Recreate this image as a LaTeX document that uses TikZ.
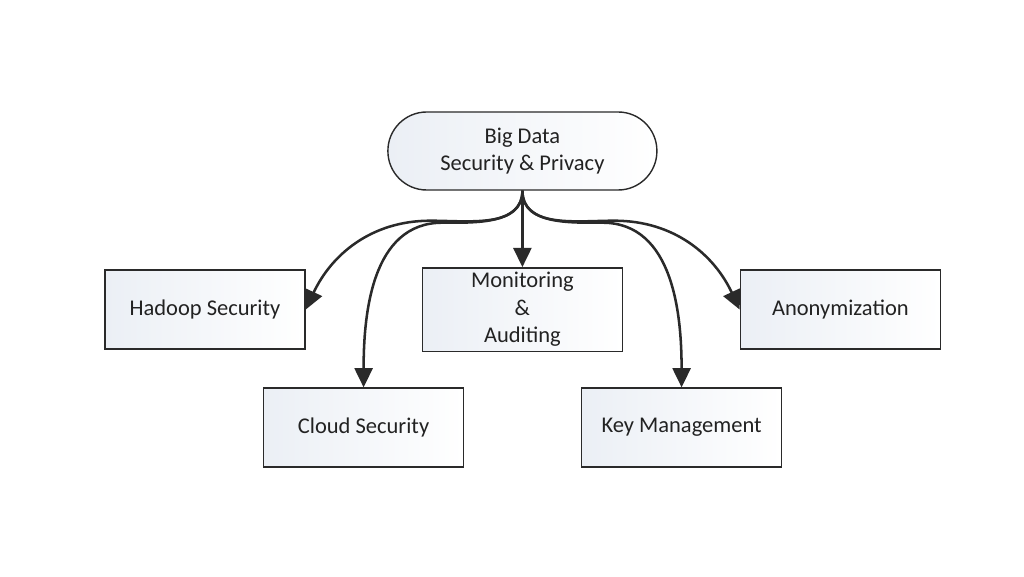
\documentclass[tikz,border=0pt]{standalone}
\usepackage{fontspec}
\setmainfont{Carlito}
\usetikzlibrary{arrows.meta}
\definecolor{ink}{HTML}{222222}
\definecolor{edge}{HTML}{2A2A2A}
\definecolor{shade}{HTML}{EBEFF5}

\begin{document}
\begin{tikzpicture}[
  text=ink,
  arrow/.style={-{Triangle[length=4.8mm,width=4.5mm]},draw=edge,line width=1.8pt},
  topic/.style={draw=edge,line width=1pt,left color=shade,right color=white,
    minimum width=5cm,minimum height=1.975cm,align=center,
    font=\fontsize{16}{19.5}\selectfont},
  root/.style={topic,minimum width=6.725cm,minimum height=1.95cm,
    rounded corners=9.7mm}
]
  \useasboundingbox (0,0) rectangle (25.6,14.4);

  \node[root] (bigdata) at (13.06,10.625) {Big Data\\Security \& Privacy};

  \node[topic] (hadoop) at (5.125,6.66) {Hadoop Security};
  \node[topic] (monitor) at (13.06,6.66) {Monitoring\\\&\\Auditing};
  \node[topic] (anonym) at (21.01,6.66) {Anonymization};
  \node[topic] (cloud) at (9.09,3.71) {Cloud Security};
  \node[topic] (keymgmt) at (17.04,3.71) {Key Management};

  \draw[arrow] (bigdata.south) -- (monitor.north);
  \draw[arrow] (bigdata.south) to[out=-90,in=0] ++(-2.3,-0.75)
    to[out=180,in=65] (hadoop.east);
  \draw[arrow] (bigdata.south) to[out=-90,in=0] ++(-2.0,-0.8)
    to[out=180,in=90] (cloud.north);
  \draw[arrow] (bigdata.south) to[out=-90,in=180] ++(2.0,-0.8)
    to[out=0,in=90] (keymgmt.north);
  \draw[arrow] (bigdata.south) to[out=-90,in=180] ++(2.3,-0.75)
    to[out=0,in=115] (anonym.west);
\end{tikzpicture}
\end{document}
